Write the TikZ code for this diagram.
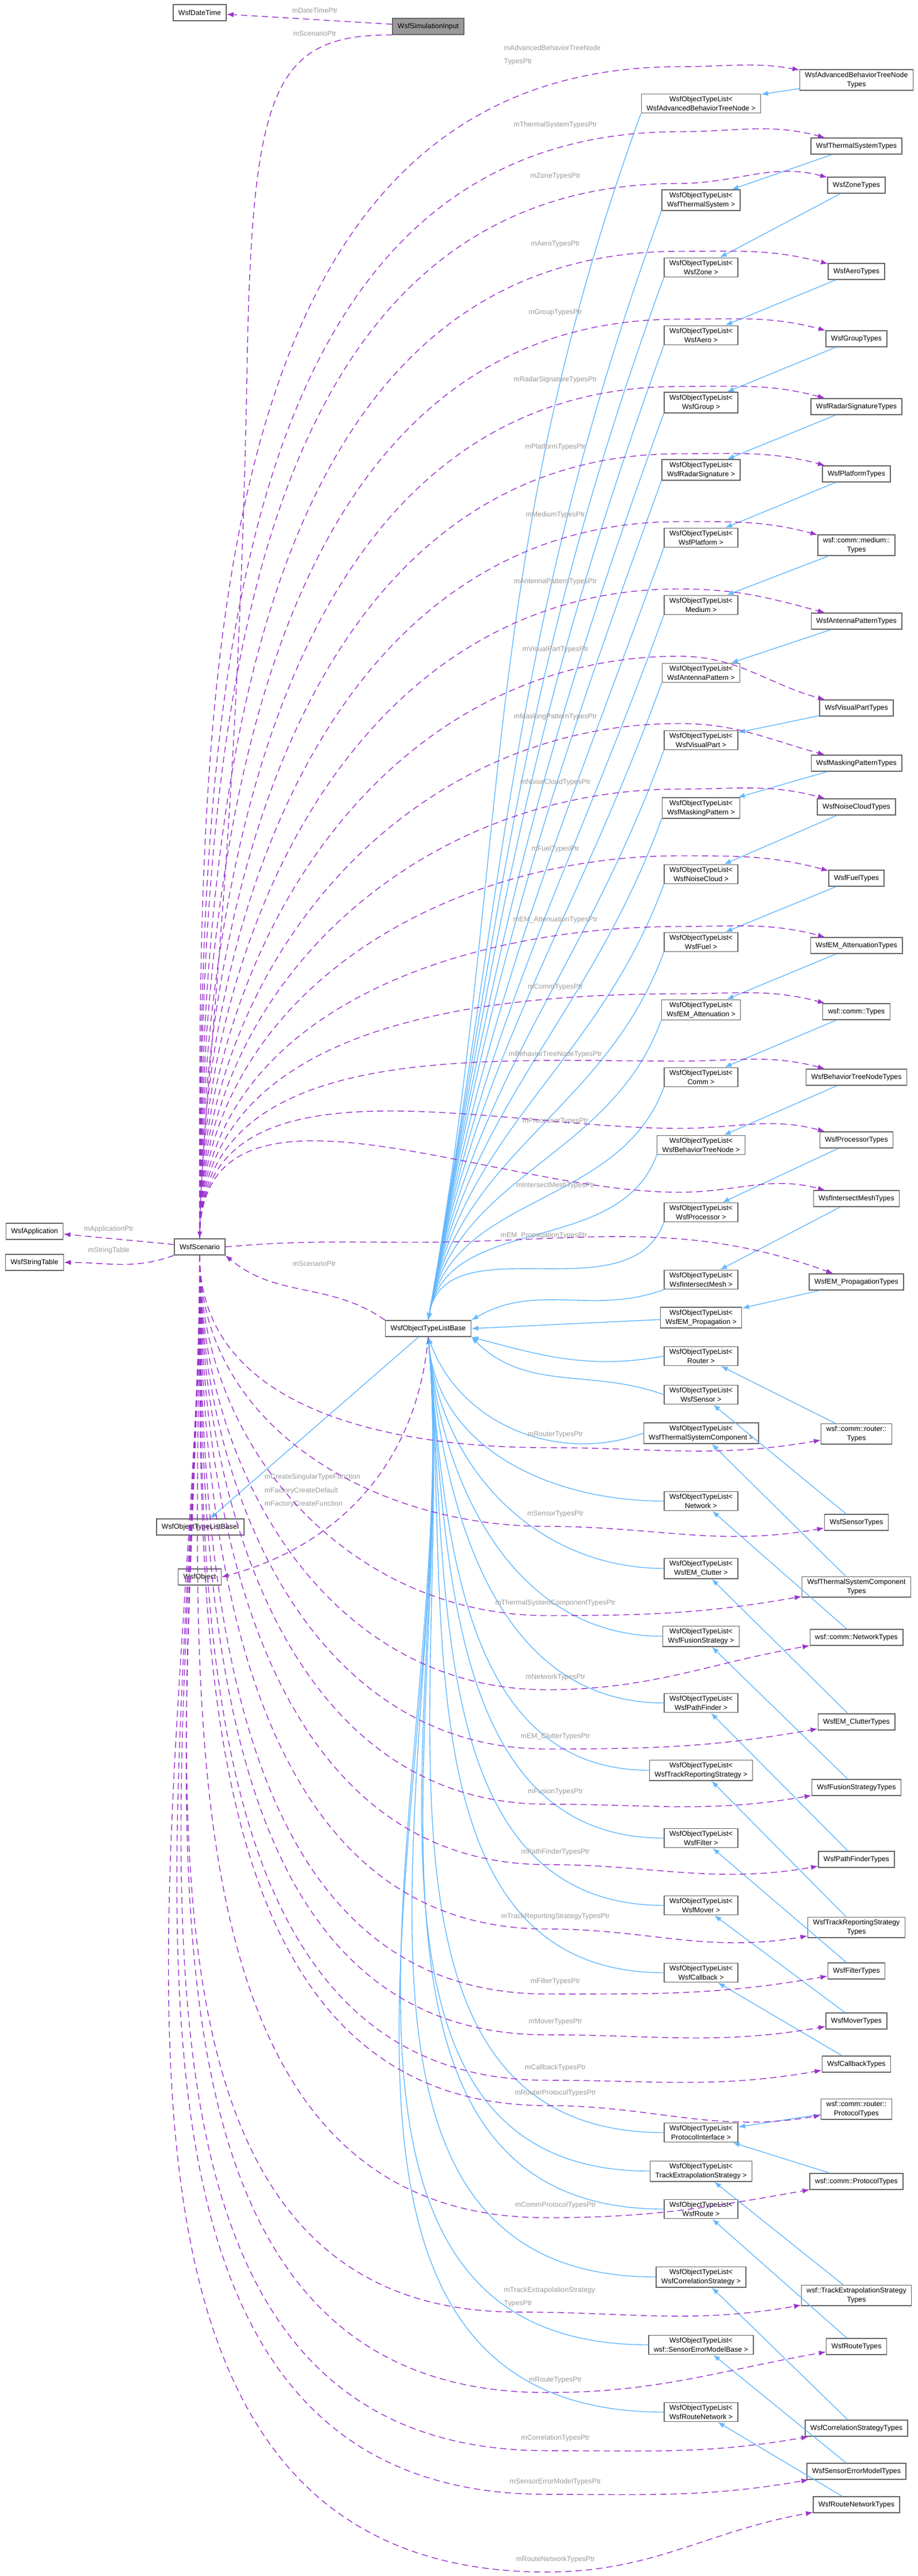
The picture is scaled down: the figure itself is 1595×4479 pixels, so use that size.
\documentclass[tikz,border=0pt]{standalone}
\usepackage{fontspec}
\setmainfont{Liberation Sans}
\usetikzlibrary{arrows.meta}
\definecolor{memcol}{HTML}{9A32CD}
\definecolor{inhcol}{HTML}{63B8FF}
\definecolor{boxcol}{HTML}{666666}
\definecolor{lblcol}{HTML}{9A9A9A}
\tikzset{
  cls/.style = {draw = boxcol, fill = white, line width = .4pt, align = center,
    font = \fontsize{3.5}{4.6}\selectfont, inner xsep = .09cm, inner ysep = .04cm,
    minimum height = .28cm},
  lbl/.style = {text = lblcol, align = center, inner sep = 0pt,
    font = \fontsize{3.5}{4.6}\selectfont},
  member/.style = {draw = memcol, line width = .4pt, dash pattern = on 1.1mm off .7mm,
    -{Latex[length = .12cm, width = .09cm]}},
  inherit/.style = {draw = inhcol, line width = .4pt,
    -{Latex[length = .12cm, width = .09cm]}}
}
\begin{document}
\begin{tikzpicture}[x = .01cm, y = -.01cm]
\useasboundingbox (0,0) rectangle (1595,4479);
% left column
\node[cls, fill = black!40] (sim) at (744,46) {WsfSimulationInput};
\node[cls] (dt) at (347,22) {WsfDateTime};
\node[cls] (scen) at (347,2168) {WsfScenario};
\node[cls] (app) at (60,2141) {WsfApplication};
\node[cls] (strtab) at (60,2195) {WsfStringTable};
\node[cls] (base) at (744,2310) {WsfObjectTypeListBase};
\node[cls] (basei) at (348,2655) {WsfObjectTypeListBaseI};
\node[cls] (obj) at (347,2742) {WsfObject};
% object type lists
\foreach \n/\y/\t in {Adv/180/WsfAdvancedBehaviorTreeNode, Thermal/348/WsfThermalSystem,
  Zone/465/WsfZone, Aero/583/WsfAero, Group/700/WsfGroup, Radar/817/WsfRadarSignature,
  Platform/935/WsfPlatform, Medium/1052/Medium, Antenna/1170/WsfAntennaPattern,
  Visual/1287/WsfVisualPart, Masking/1405/WsfMaskingPattern, Noise/1520/WsfNoiseCloud,
  Fuel/1638/WsfFuel, EMAtt/1756/WsfEM\_Attenuation, Comm/1873/Comm,
  BTN/1991/WsfBehaviorTreeNode, Proc/2108/WsfProcessor, Mesh/2225/WsfIntersectMesh,
  EMProp/2291/WsfEM\_Propagation, Router/2358/Router, Sensor/2425/WsfSensor,
  TSC/2492/WsfThermalSystemComponent, Network/2610/Network, EMClut/2727/WsfEM\_Clutter,
  Fusion/2845/WsfFusionStrategy, Path/2961/WsfPathFinder, TRS/3078/WsfTrackReportingStrategy,
  Filter/3196/WsfFilter, Mover/3313/WsfMover, Callback/3430/WsfCallback,
  Proto/3708/ProtocolInterface, TES/3775/TrackExtrapolationStrategy, Route/3841/WsfRoute,
  Corr/3959/WsfCorrelationStrategy, SEM/4077/wsf::SensorErrorModelBase,
  RNet/4194/WsfRouteNetwork}
  \node[cls] (o\n) at (1218,\y) {WsfObjectTypeList<\\\t\ >};
% types
\foreach \n/\y/\t in {Adv/139/{WsfAdvancedBehaviorTreeNode\\Types}, Thermal/254/WsfThermalSystemTypes,
  Zone/322/WsfZoneTypes, Aero/472/WsfAeroTypes, Group/589/WsfGroupTypes,
  Radar/707/WsfRadarSignatureTypes, Platform/824/WsfPlatformTypes,
  Medium/948/{wsf::comm::medium::\\Types}, Antenna/1080/WsfAntennaPatternTypes,
  Visual/1231/WsfVisualPartTypes, Masking/1327/WsfMaskingPatternTypes,
  Noise/1403/WsfNoiseCloudTypes, Fuel/1527/WsfFuelTypes, EMAtt/1644/WsfEM\_AttenuationTypes,
  Comm/1759/wsf::comm::Types, BTN/1873/WsfBehaviorTreeNodeTypes, Proc/1982/WsfProcessorTypes,
  Mesh/2084/WsfIntersectMeshTypes, EMProp/2229/WsfEM\_PropagationTypes,
  Router/2493/{wsf::comm::router::\\Types}, Sensor/2647/WsfSensorTypes,
  TSC/2759/{WsfThermalSystemComponent\\Types}, Network/2847/wsf::comm::NetworkTypes,
  EMClut/2994/WsfEM\_ClutterTypes, Fusion/3108/WsfFusionStrategyTypes,
  Path/3233/WsfPathFinderTypes, TRS/3351/{WsfTrackReportingStrategy\\Types},
  Filter/3427/WsfFilterTypes, Mover/3514/WsfMoverTypes, Callback/3589/WsfCallbackTypes,
  RProto/3667/{wsf::comm::router::\\ProtocolTypes}, CProto/3793/wsf::comm::ProtocolTypes,
  TES/3991/{wsf::TrackExtrapolationStrategy\\Types}, Route/4080/WsfRouteTypes,
  Corr/4222/WsfCorrelationStrategyTypes, SEM/4297/WsfSensorErrorModelTypes,
  RNet/4355/WsfRouteNetworkTypes}
  \node[cls] (t\n) at (1488,\y) {\t};
% inheritance
\foreach \n in {Adv, Thermal, Zone, Aero, Group, Radar, Platform, Medium, Antenna, Visual,
  Masking, Noise, Fuel, EMAtt, Comm, BTN, Proc, Mesh, EMProp, Router, Sensor, TSC, Network,
  EMClut, Fusion, Path, TRS, Filter, Mover, Callback, TES, Route, Corr, SEM, RNet}
  \draw[inherit] (t\n) -- (o\n);
\draw[inherit] (tRProto) -- (oProto);
\draw[inherit] (tCProto) -- (oProto);
\foreach \n in {Adv, Thermal, Zone, Aero, Group, Radar, Platform, Medium, Antenna, Visual,
  Masking, Noise, Fuel, EMAtt, Comm, BTN, Proc}
  \draw[inherit] (o\n.south west) to[out = -110, in = 80] (base.north);
\draw[inherit] (oMesh.south west) to[out = 200, in = 30] (base.north east);
\draw[inherit] (oEMProp) -- (base.east);
\draw[inherit] (oRouter.west) to[out = 190, in = -15] (base.south east);
\draw[inherit] (oSensor.west) to[out = 160, in = -45] (base.south east);
\draw[inherit] (oTSC.west) to[out = 200, in = -70] (base.south);
\foreach \n in {Network, EMClut, Fusion, Path, TRS, Filter, Mover, Callback, Proto, TES,
  Route, Corr, SEM, RNet}
  \draw[inherit] (o\n.west) to[out = 180, in = -85] (base.south);
\draw[inherit] (base) -- (basei);
% members
\node[lbl] (lDt) at (547,18) {mDateTimePtr};
\draw[member] (sim) -- (dt);
\node[lbl] (lSim) at (547,58) {mScenarioPtr};
\draw[member] (sim.south west) .. controls (480,60) and (440,150) .. (430,600)
  .. controls (415,1500) and (350,1900) .. (scen.north);
\node[lbl] (lApp) at (189,2137) {mApplicationPtr};
\draw[member] (scen) -- (app);
\node[lbl] (lStr) at (189,2174) {mStringTable};
\draw[member] (scen.south west) to[out = 200, in = 0] (strtab);
\node[lbl] (lBase) at (546,2197) {mScenarioPtr};
\draw[member] (base.north west) to[out = 145, in = -40] (scen.south east);
\node[lbl, align = left, anchor = west] (lObj) at (459,2592)
  {mCreateSingularTypeFunction\\[2pt]mFactoryCreateDefault\\[2pt]mFactoryCreateFunction};
\draw[member] (base.south) to[out = -95, in = 15] (obj.east);
\node[lbl, align = left, anchor = west] (tAdvl) at (875,96)
  {mAdvancedBehaviorTreeNode\\[2pt]TypesPtr};
\draw[member] (scen.north) to[out = 90, in = 180] (1180,116) to[out = 0, in = 170] (tAdv);
\foreach \n/\y/\t in {Thermal/217/mThermalSystemTypesPtr, Zone/307/mZoneTypesPtr,
  Aero/425/mAeroTypesPtr, Group/543/mGroupTypesPtr, Radar/660/mRadarSignatureTypesPtr,
  Platform/777/mPlatformTypesPtr, Medium/895/mMediumTypesPtr,
  Antenna/1012/mAntennaPatternTypesPtr, Visual/1129/mVisualPartTypesPtr,
  Masking/1246/mMaskingPatternTypesPtr, Noise/1360/mNoiseCloudTypesPtr,
  Fuel/1476/mFuelTypesPtr, EMAtt/1599/mEM\_AttenuationTypesPtr, Comm/1716/mCommTypesPtr,
  BTN/1833/mBehaviorTreeNodeTypesPtr, Proc/1950/mProcessorTypesPtr,
  Mesh/2061/mIntersectMeshTypesPtr}
{
  \node[lbl] (t\n l) at (965,\y) {\t};
  \draw[member] (scen.north) to[out = 90, in = 180] (1180,{\y+12}) to[out = 0, in = 165] (t\n);
}
\node[lbl] (tEMPropl) at (945,2148) {mEM\_PropagationTypesPtr};
\draw[member] (scen.east) to[out = 5, in = 180] (720,2160) to[out = 0, in = 160] (tEMProp);
\foreach \n/\y/\t in {Router/2495/mRouterTypesPtr, Sensor/2632/mSensorTypesPtr,
  TSC/2787/mThermalSystemComponentTypesPtr, Network/2916/mNetworkTypesPtr,
  EMClut/3019/mEM\_ClutterTypesPtr, Fusion/3115/mFusionTypesPtr,
  Path/3220/mPathFinderTypesPtr, TRS/3332/mTrackReportingStrategyTypesPtr,
  Filter/3445/mFilterTypesPtr, Mover/3516/mMoverTypesPtr, Callback/3595/mCallbackTypesPtr,
  RProto/3639/mRouterProtocolTypesPtr, CProto/3834/mCommProtocolTypesPtr,
  Route/4138/mRouteTypesPtr, Corr/4239/mCorrelationTypesPtr,
  SEM/4315/mSensorErrorModelTypesPtr, RNet/4450/mRouteNetworkTypesPtr}
{
  \node[lbl] (t\n l) at (965,\y) {\t};
  \draw[member] (scen.south) to[out = -90, in = 180] (950,{\y+22}) to[out = 0, in = 190] (t\n);
}
\node[lbl, align = left, anchor = west] (tTESl) at (875,3994)
  {mTrackExtrapolationStrategy\\[2pt]TypesPtr};
\draw[member] (scen.south) to[out = -90, in = 180] (900,4020) to[out = 0, in = 190] (tTES);
\end{tikzpicture}
\end{document}
